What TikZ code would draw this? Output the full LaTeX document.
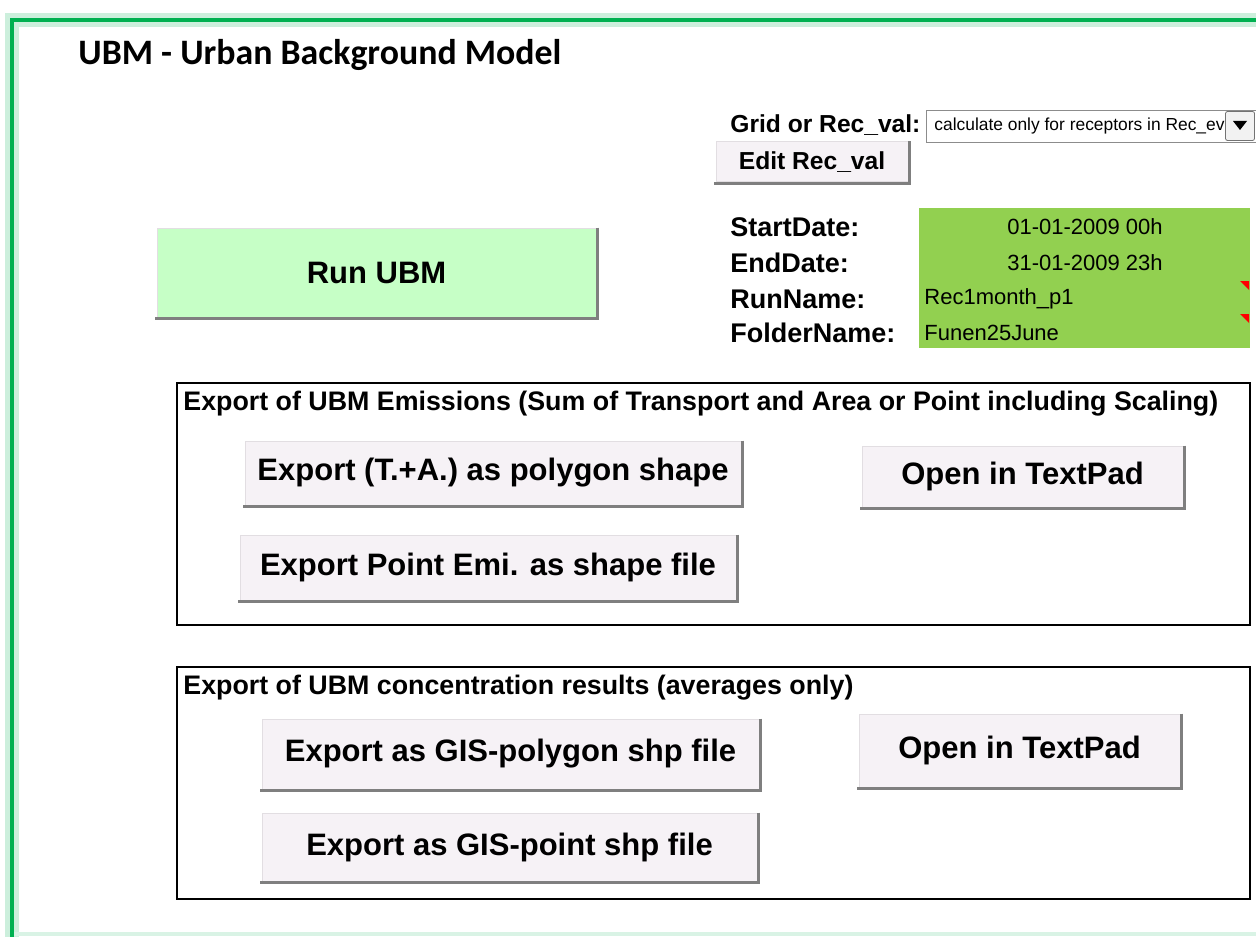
\documentclass[tikz,border=0pt]{standalone}
\usepackage{fontspec}
\setmainfont{Liberation Sans}
\newfontfamily\calfont{Carlito}
\usetikzlibrary{positioning}
\definecolor{xlgreen}{HTML}{00B050}
\definecolor{cellgreen}{HTML}{92D050}
\definecolor{runfill}{HTML}{C6FFC6}
\definecolor{btnfill}{HTML}{F6F2F6}
\definecolor{btnedge}{HTML}{E2DEE2}
\definecolor{btnshade}{HTML}{7F7F7F}
\newcommand{\xbtn}[6]{\node(#1)[btn,minimum width=#4*0.5pt,minimum height=#5*0.5pt] at (#2,#3){#6};
  \draw[shade] ([xshift=0.6pt]#1.north east) -- ([xshift=0.6pt,yshift=-0.6pt]#1.south east) -- ([xshift=-0.6pt,yshift=-0.6pt]#1.south west)}

\begin{document}
\begin{tikzpicture}[
        x=0.5pt, y=-0.5pt,
        every node/.style={inner sep=0pt},
        btn/.style={rectangle,draw=btnedge,fill=btnfill,line width=0.5pt,
                    font=\fontsize{15.5}{18}\selectfont\bfseries},
        shade/.style={draw=btnshade,line width=1.4pt},
        lbl/.style={anchor=west,font=\fontsize{13.5}{16}\selectfont\bfseries},
        val/.style={font=\fontsize{11}{13}\selectfont},
        group/.style={draw=black,line width=1pt},
        grouptitle/.style={anchor=west,font=\fontsize{13.4}{16}\selectfont\bfseries}
      ]
      \useasboundingbox (0,0) rectangle (1256,936);
      % sheet frame
      \draw[xlgreen!20,line width=7pt] (12,940) -- (12,20) -- (1262,20);
      \draw[xlgreen!15,line width=2pt] (12,934) -- (1262,934);
      \draw[xlgreen,line width=2.2pt] (12,940) -- (12,20) -- (1262,20);
      \node(title)[anchor=base west,font=\fontsize{17.9}{21}\selectfont\calfont\bfseries] at (78,65) {UBM - Urban Background Model};

      % receptor choice
      \node(gridlbl)[anchor=base west,font=\fontsize{12.3}{15}\selectfont\bfseries] at (730,133) {Grid or Rec\_val:};
      \node(drop)[draw=black!45,fill=white,minimum width=330*0.5pt,minimum height=32*0.5pt] at (1091,126) {};
      \begin{scope}
        \clip (927,111) rectangle (1225,141);
        \node(droptxt)[anchor=west,font=\fontsize{8.7}{11}\selectfont] at (934,126) {calculate only for receptors in Rec\_eval};
      \end{scope}
      \node(dropbtn)[draw=black!55,fill=black!5,rounded corners=1pt,minimum width=29*0.5pt,minimum height=29*0.5pt] at (1240,126) {};
      \fill (1233,121) -- (1247,121) -- (1240,130) -- cycle;
      \xbtn{editrec}{812}{162}{192}{40}{\fontsize{12.3}{15}\selectfont Edit Rec\_val};

      % run settings
      \node(cells)[fill=cellgreen,minimum width=331*0.5pt,minimum height=140*0.5pt] at (1084.5,278) {};
      \node(start)[lbl] at (730,227) {StartDate:};
      \node(end)[lbl] at (730,263) {EndDate:};
      \node(run)[lbl] at (730,299) {RunName:};
      \node(folder)[lbl] at (730,333) {FolderName:};
      \node(startval)[val] at (1085,227) {01-01-2009 00h};
      \node(endval)[val] at (1085,263) {31-01-2009 23h};
      \node(runval)[val,anchor=west] at (924,299) {Rec1month\_p1};
      \node(folderval)[val,anchor=west] at (924,333) {Funen25June};
      \fill[red] (1240,281) -- (1249,281) -- (1249,290) -- cycle;
      \fill[red] (1240,314) -- (1249,314) -- (1249,323) -- cycle;

      \node(runubm)[btn,fill=runfill,minimum width=439*0.5pt,minimum height=89*0.5pt] at (376.5,272.5) {Run UBM};
      \draw[shade] ([xshift=0.6pt]runubm.north east) -- ([xshift=0.6pt,yshift=-0.6pt]runubm.south east) -- ([xshift=-0.6pt,yshift=-0.6pt]runubm.south west);

      % emissions export
      \draw[group] (177,383) rectangle (1250,625);
      \node(emititle)[grouptitle] at (183,404) {Export of UBM Emissions (Sum of Transport and Area or Point including Scaling)};
      \xbtn{emipoly}{493}{473}{496}{64}{Export (T.+A.) as polygon shape};
      \xbtn{emipoint}{488}{567.5}{496}{65}{Export Point Emi. as shape file};
      \xbtn{emipad}{1022.5}{476.5}{321}{61}{Open in TextPad};

      % concentration export
      \draw[group] (177,667) rectangle (1250,899);
      \node(conctitle)[grouptitle] at (183,688) {Export of UBM concentration results (averages only)};
      \xbtn{concpoly}{510.5}{754}{497}{70}{Export as GIS-polygon shp file};
      \xbtn{concpoint}{509.5}{847}{495}{68}{Export as GIS-point shp file};
      \xbtn{concpad}{1019.5}{750.5}{321}{73}{Open in TextPad};
    \end{tikzpicture}
\end{document}
